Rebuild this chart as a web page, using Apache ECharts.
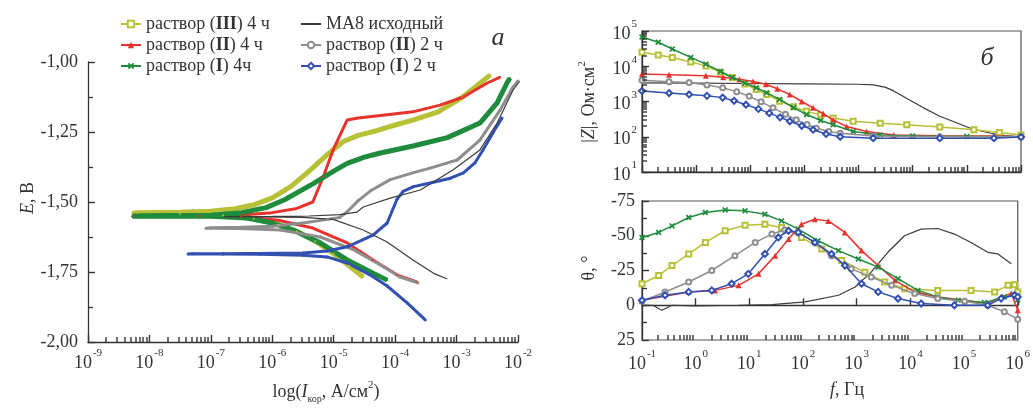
<!DOCTYPE html>
<html><head><meta charset="utf-8">
<script src="https://cdn.jsdelivr.net/npm/echarts@6/dist/echarts.min.js"></script>
<style>html,body{margin:0;padding:0;background:#fff}#c{width:1033px;height:408px}</style>
</head><body><div id="c"></div>
<script>
// ---- series names ----
const names = ['раствор (III) 4 ч', 'раствор (II) 4 ч', 'раствор (I) 4ч', 'МА8 исходный', 'раствор (II) 2 ч', 'раствор (I) 2 ч'];
const colors = ['#b8c035', '#e8332c', '#1f8b3d', '#3c3c3c', '#8e8e8e', '#3150b2'];

// ---- panel a: polarization curves, [log10(I, A/cm2), E, V] ----
const polIII4 = [[-4.52,-1.768],[-4.75,-1.728],[-5.0,-1.685],[-5.3,-1.64],[-5.6,-1.605],[-5.9,-1.58],[-6.3,-1.56],[-6.8,-1.548],[-7.5,-1.543],[-8.28,-1.541],
  [-8.2,-1.538],[-7.5,-1.537],[-7.0,-1.533],[-6.6,-1.524],[-6.3,-1.51],[-6.0,-1.485],[-5.7,-1.445],[-5.4,-1.39],[-5.1,-1.33],[-4.85,-1.285],[-4.6,-1.262],[-4.3,-1.245],[-4.0,-1.225],[-3.7,-1.207],[-3.3,-1.178],[-2.9,-1.125],[-2.7,-1.09],[-2.45,-1.046]];
const polII4 = [[-3.64,-1.786],[-3.97,-1.76],[-4.36,-1.707],[-4.78,-1.646],[-5.34,-1.593],[-5.9,-1.565],[-6.5,-1.553],[-7.2,-1.551],[-8.28,-1.551],
  [-8.2,-1.549],[-7.2,-1.548],[-6.5,-1.546],[-6.0,-1.538],[-5.6,-1.523],[-5.34,-1.50],[-5.17,-1.41],[-5.01,-1.314],[-4.78,-1.207],[-4.6,-1.20],[-4.2,-1.19],[-3.71,-1.178],[-3.27,-1.154],[-2.89,-1.125],[-2.5,-1.075],[-2.29,-1.054]];
const polI4 = [[-4.13,-1.779],[-4.36,-1.754],[-4.78,-1.707],[-5.22,-1.646],[-5.66,-1.60],[-6.0,-1.575],[-6.41,-1.557],[-7.0,-1.551],[-8.28,-1.551],
  [-8.2,-1.549],[-7.0,-1.547],[-6.5,-1.538],[-6.1,-1.52],[-5.8,-1.492],[-5.5,-1.455],[-5.34,-1.435],[-5.0,-1.39],[-4.78,-1.362],[-4.5,-1.34],[-4.24,-1.325],[-3.71,-1.30],[-3.15,-1.27],[-2.62,-1.218],[-2.34,-1.146],[-2.18,-1.075],[-2.13,-1.057]];
const polMA8 = [[-3.15,-1.775],[-3.38,-1.754],[-3.71,-1.707],[-4.13,-1.643],[-4.52,-1.60],[-5.01,-1.562],[-5.5,-1.555],[-6.2,-1.553],[-6.8,-1.553],
  [-6.7,-1.552],[-6.0,-1.551],[-5.4,-1.55],[-4.9,-1.545],[-4.62,-1.536],[-4.52,-1.518],[-4.08,-1.486],[-3.59,-1.457],[-3.06,-1.386],[-2.62,-1.314],[-2.34,-1.218],[-2.08,-1.10],[-1.97,-1.068]];
const polII2 = [[-3.63,-1.789],[-3.92,-1.768],[-4.24,-1.725],[-4.68,-1.67],[-5.22,-1.625],[-5.87,-1.60],[-6.5,-1.595],[-7.08,-1.594],
  [-7.0,-1.592],[-6.5,-1.59],[-6.0,-1.587],[-5.5,-1.575],[-5.1,-1.562],[-4.9,-1.555],[-4.78,-1.535],[-4.6,-1.495],[-4.4,-1.46],[-4.08,-1.42],[-3.7,-1.395],[-3.43,-1.379],[-2.99,-1.35],[-2.62,-1.279],[-2.29,-1.171],[-2.08,-1.089],[-2.0,-1.068]];
const polI2 = [[-3.51,-1.921],[-3.8,-1.861],[-4.13,-1.80],[-4.41,-1.76],[-4.78,-1.718],[-5.11,-1.696],[-5.5,-1.69],[-6.2,-1.687],[-6.8,-1.686],[-7.37,-1.686],
  [-7.3,-1.685],[-6.8,-1.685],[-6.45,-1.684],[-6.2,-1.684],[-5.9,-1.683],[-5.5,-1.682],[-5.11,-1.675],[-4.78,-1.66],[-4.36,-1.618],[-4.13,-1.575],[-3.97,-1.49],[-3.87,-1.462],[-3.7,-1.445],[-3.43,-1.432],[-3.1,-1.415],[-2.89,-1.396],[-2.7,-1.36],[-2.57,-1.314],[-2.4,-1.25],[-2.26,-1.20]];

// ---- panel b (top): impedance modulus, [log10(f, Hz), log10(|Z|, Ohm cm2)] ----
const zIII4 = [[-1,4.40],[-0.7,4.32],[-0.44,4.25],[-0.1,4.12],[0.18,4.01],[0.45,3.83],[0.67,3.68],[0.9,3.50],[1.11,3.34],[1.3,3.20],[1.54,3.01],[1.8,2.85],[2.04,2.72],[2.3,2.62],[2.53,2.53],[2.9,2.44],[3.4,2.38],[3.89,2.34],[4.5,2.28],[5.13,2.20],[5.6,2.12],[6.0,2.05]];
const zII4 = [[-1,3.78],[-0.5,3.76],[0.18,3.73],[0.5,3.69],[0.8,3.63],[1.05,3.57],[1.29,3.49],[1.5,3.36],[1.73,3.20],[1.95,3.00],[2.16,2.82],[2.35,2.65],[2.53,2.48],[2.78,2.29],[3.15,2.15],[3.65,2.05],[4.5,2.03],[5.5,2.02],[6.0,2.0]];
const zI4 = [[-1,4.83],[-0.7,4.68],[-0.44,4.49],[-0.1,4.25],[0.18,4.06],[0.45,3.85],[0.67,3.68],[0.9,3.52],[1.11,3.39],[1.3,3.25],[1.54,3.06],[1.8,2.83],[2.04,2.63],[2.3,2.46],[2.53,2.34],[2.9,2.15],[3.4,2.05],[4.0,2.02],[5.0,2.01],[6.0,2.0]];
const zMA8 = [[-1,3.53],[0,3.52],[1,3.51],[2,3.5],[3,3.49],[3.27,3.47],[3.5,3.40],[3.65,3.30],[3.9,3.08],[4.2,2.82],[4.5,2.58],[4.82,2.39],[5.1,2.22],[5.44,2.10],[5.7,2.03],[6.0,2.0]];
const zII2 = [[-1,3.60],[-0.5,3.56],[-0.13,3.54],[0.2,3.47],[0.49,3.39],[0.75,3.28],[0.98,3.15],[1.2,2.99],[1.42,2.82],[1.65,2.64],[1.85,2.48],[2.05,2.35],[2.22,2.24],[2.45,2.15],[2.66,2.10],[3.27,2.02],[4.5,2.0],[6.0,2.0]];
const zI2 = [[-1,3.30],[-0.5,3.24],[-0.13,3.20],[0.2,3.16],[0.49,3.11],[0.7,3.02],[0.92,2.91],[1.15,2.79],[1.35,2.67],[1.55,2.55],[1.73,2.44],[1.95,2.31],[2.16,2.20],[2.4,2.08],[2.66,2.00],[3.27,1.96],[4.5,1.96],[5.5,1.96],[6.0,1.99]];

// ---- panel b (bottom): phase angle, [log10(f, Hz), theta, deg] ----
const thIII4 = [[-1,-15.5],[-0.69,-21.4],[-0.44,-28.6],[-0.13,-36.9],[0.18,-45.2],[0.55,-53.6],[0.92,-57.6],[1.29,-58.3],[1.6,-56.0],[1.97,-48.8],[2.35,-40.5],[2.72,-32.2],[3.15,-23.8],[3.52,-16.7],[3.89,-11.9],[4.51,-10.7],[5.13,-10.7],[5.57,-9.6],[5.82,-14.3],[5.94,-14.8],[6.0,-9.6]];
const thII4 = [[-1,-3.6],[-0.13,-9.6],[0.36,-10.7],[0.8,-14.3],[1.17,-22.6],[1.48,-35.7],[1.73,-47.6],[1.97,-58.3],[2.22,-61.9],[2.47,-60.7],[2.78,-52.4],[3.09,-39.3],[3.4,-28.6],[3.71,-17.9],[4.08,-9.6],[4.51,-6.0],[5.01,-3.6],[5.44,-1.2],[5.69,-6.0],[5.88,-8.4],[6.0,3.6]];
const thI4 = [[-1,-48.8],[-0.69,-52.4],[-0.44,-57.1],[-0.13,-63.1],[0.18,-66.7],[0.55,-68.6],[0.92,-67.9],[1.29,-65.5],[1.6,-60.7],[1.91,-54.8],[2.28,-46.4],[2.66,-39.3],[3.03,-33.3],[3.4,-27.4],[3.77,-19.1],[4.14,-10.7],[4.51,-6.0],[4.89,-3.6],[5.38,-1.9],[5.75,-6.0],[5.94,-7.2],[6.0,-4.0]];
const thMA8 = [[-1,0],[-0.8,0],[-0.63,3.6],[-0.44,0],[0,0.5],[0.8,0],[1.42,-0.5],[2.04,-2.4],[2.66,-7.2],[2.97,-13.1],[3.27,-23.8],[3.58,-38.1],[3.89,-50.0],[4.2,-54.8],[4.51,-55.2],[4.82,-51.2],[5.13,-45.2],[5.44,-38.1],[5.63,-36.9],[5.88,-29.8]];
const thII2 = [[-1,-2.9],[-0.57,-9.5],[-0.13,-16.7],[0.3,-25.0],[0.73,-35.7],[1.11,-45.2],[1.42,-51.2],[1.66,-54.1],[1.91,-52.4],[2.22,-45.2],[2.53,-35.7],[2.9,-26.2],[3.27,-20.3],[3.65,-14.3],[4.08,-8.4],[4.51,-4.8],[5.01,-2.9],[5.44,0],[5.75,4.7],[6.0,10.0]];
const thI2 = [[-1,-3.6],[-0.57,-7.2],[-0.13,-9.6],[0.3,-10.7],[0.67,-15.5],[0.98,-22.6],[1.29,-36.9],[1.54,-48.8],[1.73,-53.6],[1.91,-52.4],[2.22,-45.2],[2.53,-36.9],[2.78,-28.6],[3.09,-15.5],[3.4,-9.6],[3.77,-4.8],[4.2,-1.2],[4.82,0],[5.44,0],[5.69,-4.8],[5.94,-7.2],[6.0,-6.0]];

// ---- tick labels ----
const eTicks = [-2.0, -1.75, -1.5, -1.25, -1.0];
const thetaTicks = [-75, -50, -25, 0, 25];
const minorMult = [2, 3, 4, 5, 6, 7, 8, 9];

const FONT = 'Liberation Serif';
const TXT = '#333';
const TICK = '#333';

const polData = [polIII4, polII4, polI4, polMA8, polII2, polI2];
const zData = [zIII4, zII4, zI4, zMA8, zII2, zI2];
const thData = [thIII4, thII4, thI4, thMA8, thII2, thI2];

const xPath = 'path://M0,2L2,0L5,3L8,0L10,2L7,5L10,8L8,10L5,7L2,10L0,8L3,5Z';
const symbols = ['emptyRect', 'triangle', xPath, 'none', 'emptyCircle', 'emptyDiamond'];
const symSize = [5, 6, 6, 0, 5, 6];
const polWidth = [5, 3, 5, 1.2, 3, 3];

const p10 = v => Math.pow(10, v);
const supRich = {
  b: {fontSize: 18, fontFamily: FONT, color: TXT, lineHeight: 24, verticalAlign: 'bottom'},
  s: {fontSize: 11, fontFamily: FONT, color: TXT, lineHeight: 11, verticalAlign: 'top', padding: [0, 0, 0, 1]}
};
const supFmt = v => '{b|10}{s|' + Math.round(Math.log10(v)) + '}';

const series = [];
// top-right |Z| (first so legend icons take markers)
names.forEach((n, i) => series.push({
  name: n, type: 'line', xAxisIndex: 1, yAxisIndex: 1, data: zData[i].map(p => [p10(p[0]), p10(p[1])]),
  symbol: i === 3 ? 'circle' : symbols[i], symbolSize: symSize[i], showSymbol: i !== 3,
  lineStyle: {color: colors[i], width: i === 3 ? 1.2 : 1.5}, itemStyle: {color: colors[i], borderWidth: 1.2},
  z: i === 3 ? 2 : 3 + i, animation: false
}));
names.forEach((n, i) => series.push({
  name: n, type: 'line', xAxisIndex: 2, yAxisIndex: 2, data: thData[i].map(p => [p10(p[0]), p[1]]),
  symbol: symbols[i], symbolSize: symSize[i], showSymbol: i !== 3,
  lineStyle: {color: colors[i], width: i === 3 ? 1.2 : 1.5}, itemStyle: {color: colors[i], borderWidth: 1.2},
  z: i === 3 ? 2 : 3 + i, animation: false
}));
const polOrder = [0, 1, 2, 4, 5, 3];
polOrder.forEach(i => series.push({
  name: names[i], type: 'line', xAxisIndex: 0, yAxisIndex: 0, data: polData[i].map(p => [p10(p[0]), p[1]]),
  symbol: i === 3 ? 'none' : 'circle', symbolSize: i === 4 || i === 5 ? 3 : 2, showSymbol: i !== 3,
  lineStyle: {color: colors[i], width: polWidth[i]}, itemStyle: {color: colors[i]},
  animation: false
}));

const axLine = {lineStyle: {color: TICK, width: 1.3}};
const majTick = {inside: true, length: 7, lineStyle: {color: TICK, width: 1.4}};
const legendText = {
  fontSize: 18, fontFamily: FONT, color: TXT,
  rich: {n: {fontSize: 18, fontFamily: FONT, color: TXT}, b: {fontSize: 18, fontFamily: FONT, color: TXT, fontWeight: 'bold'}}
};
const legendFmt = name => {
  const m = name.match(/^(.*\()(I+)(\).*)$/);
  return m ? '{n|' + m[1] + '}{b|' + m[2] + '}{n|' + m[3] + '}' : '{n|' + name + '}';
};
const legendBase = {orient: 'vertical', itemWidth: 20, itemHeight: 8, itemGap: 3, selectedMode: false, textStyle: legendText, formatter: legendFmt, padding: 0};

function txt(x, y, rich, text, rot) {
  return {type: 'text', x: x, y: y, rotation: rot || 0, silent: true,
    style: {text: text, rich: rich, align: 'center', verticalAlign: 'middle', textAlign: 'center', textVerticalAlign: 'middle', fill: TXT, font: '18px ' + FONT}};
}
const titleRich = {
  n: {fontSize: 18, fontFamily: FONT, color: TXT, lineHeight: 24, verticalAlign: 'middle'},
  i: {fontSize: 18, fontFamily: FONT, color: TXT, fontStyle: 'italic', lineHeight: 24, verticalAlign: 'middle'},
  sub: {fontSize: 10, fontFamily: FONT, color: TXT, lineHeight: 10, verticalAlign: 'bottom'},
  sup: {fontSize: 11, fontFamily: FONT, color: TXT, lineHeight: 11, verticalAlign: 'top'},
  big: {fontSize: 26, fontFamily: FONT, color: '#222', fontStyle: 'italic'}
};
const titles = [
  txt(28, 198, titleRich, '{i|E}{n|, В}', Math.PI / 2),
  txt(326, 392, titleRich, '{n|log(}{i|I}{sub|кор}{n|, А/см}{sup|2}{n|)}'),
  txt(589, 102, titleRich, '{n||}{i|Z}{n||, Ом·см}{sup|2}', Math.PI / 2),
  txt(589, 268, titleRich, '{n|θ, °}', Math.PI / 2),
  txt(847, 390, titleRich, '{i|f}{n|, Гц}'),
  txt(498, 38, titleRich, '{big|а}'),
  txt(987, 58, titleRich, '{big|б}')
];

const option = {
  backgroundColor: '#fff',
  animation: false,
  grid: [
    {left: 88, top: 62, width: 430, height: 280, show: false},
    {left: 642, top: 31, width: 379, height: 141, show: true, borderColor: '#555', borderWidth: 1.2},
    {left: 642, top: 201, width: 379, height: 139, show: true, borderColor: '#555', borderWidth: 1.2}
  ],
  xAxis: [
    {type: 'log', logBase: 10, gridIndex: 0, min: 1e-9, max: 1e-2, interval: 1, axisLine: axLine,
      axisTick: majTick, splitLine: {show: false},
      axisLabel: {formatter: supFmt, rich: supRich, margin: 6, color: TXT}},
    {type: 'log', logBase: 10, gridIndex: 1, min: 0.1, max: 1e6, interval: 1, axisLine: axLine,
      axisTick: majTick, splitLine: {show: false}, axisLabel: {show: false}},
    {type: 'log', logBase: 10, gridIndex: 2, min: 0.1, max: 1e6, interval: 1, axisLine: axLine,
      axisTick: majTick, splitLine: {show: false},
      axisLabel: {formatter: supFmt, rich: supRich, margin: 9, color: TXT}}
  ],
  yAxis: [
    {type: 'value', gridIndex: 0, min: eTicks[0], max: eTicks[eTicks.length - 1], interval: 0.25, axisLine: {show: true, lineStyle: {color: TICK, width: 1.3}},
      axisTick: Object.assign({show: true}, majTick), minorTick: {show: true, splitNumber: 2, length: 5, lineStyle: {color: TICK, width: 1.3}},
      splitLine: {show: false}, minorSplitLine: {show: false},
      axisLabel: {formatter: v => v.toFixed(2).replace('.', ','), fontSize: 18, fontFamily: FONT, color: TXT, margin: 10}},
    {type: 'log', logBase: 10, gridIndex: 1, min: 10, max: 1e5, interval: 1, axisLine: {show: true, lineStyle: {color: TICK, width: 1.3}},
      axisTick: Object.assign({show: true}, majTick), splitLine: {show: false},
      axisLabel: {formatter: supFmt, rich: supRich, margin: 5, color: TXT}},
    {type: 'value', gridIndex: 2, min: thetaTicks[0], max: thetaTicks[thetaTicks.length - 1], interval: 25, inverse: true,
      axisLine: {show: true, lineStyle: {color: TICK, width: 1.3}},
      axisTick: Object.assign({show: true}, majTick), minorTick: {show: true, splitNumber: 2, length: 5, lineStyle: {color: TICK, width: 1.3}},
      splitLine: {show: false}, minorSplitLine: {show: false},
      axisLabel: {fontSize: 18, fontFamily: FONT, color: TXT, margin: 7}}
  ],
  legend: [
    Object.assign({}, legendBase, {left: 120, top: 15, data: [names[0], names[1], names[2]]}),
    Object.assign({}, legendBase, {left: 300, top: 15, data: [
      {name: names[3], itemStyle: {color: 'rgba(0,0,0,0)', borderColor: 'rgba(0,0,0,0)', borderWidth: 0}},
      names[4], names[5]]})
  ],
  graphic: titles,
  series: series
};
const chart = echarts.init(document.getElementById('c'), null, {renderer: 'canvas'});
chart.setOption(option);

// ---- log minor ticks (2..9 per decade), positioned with the axes' own scales ----
const minorTicks = [];
function addMinorX(xIdx, yIdx, yBottomValue, decades) {
  const yb = Math.round(chart.convertToPixel({yAxisIndex: yIdx}, yBottomValue));
  decades.forEach(e => minorMult.forEach(m => {
    const x = Math.round(chart.convertToPixel({xAxisIndex: xIdx}, m * p10(e)));
    minorTicks.push({type: 'rect', silent: true, z: 100, shape: {x: x - 0.7, y: yb - 5, width: 1.4, height: 5}, style: {fill: TICK}});
  }));
}
function addMinorY(xIdx, yIdx, xLeftValue, decades) {
  const xl = Math.round(chart.convertToPixel({xAxisIndex: xIdx}, xLeftValue));
  decades.forEach(e => minorMult.forEach(m => {
    const y = Math.round(chart.convertToPixel({yAxisIndex: yIdx}, m * p10(e)));
    minorTicks.push({type: 'rect', silent: true, z: 100, shape: {x: xl, y: y - 0.7, width: 5, height: 1.4}, style: {fill: TICK}});
  }));
}
addMinorX(0, 0, eTicks[0], [-9, -8, -7, -6, -5, -4, -3]);
addMinorX(1, 1, 10, [-1, 0, 1, 2, 3, 4, 5]);
addMinorX(2, 2, thetaTicks[thetaTicks.length - 1], [-1, 0, 1, 2, 3, 4, 5]);
addMinorY(1, 1, 0.1, [1, 2, 3, 4]);
chart.setOption({graphic: {elements: titles.concat(minorTicks)}});
</script></body></html>
